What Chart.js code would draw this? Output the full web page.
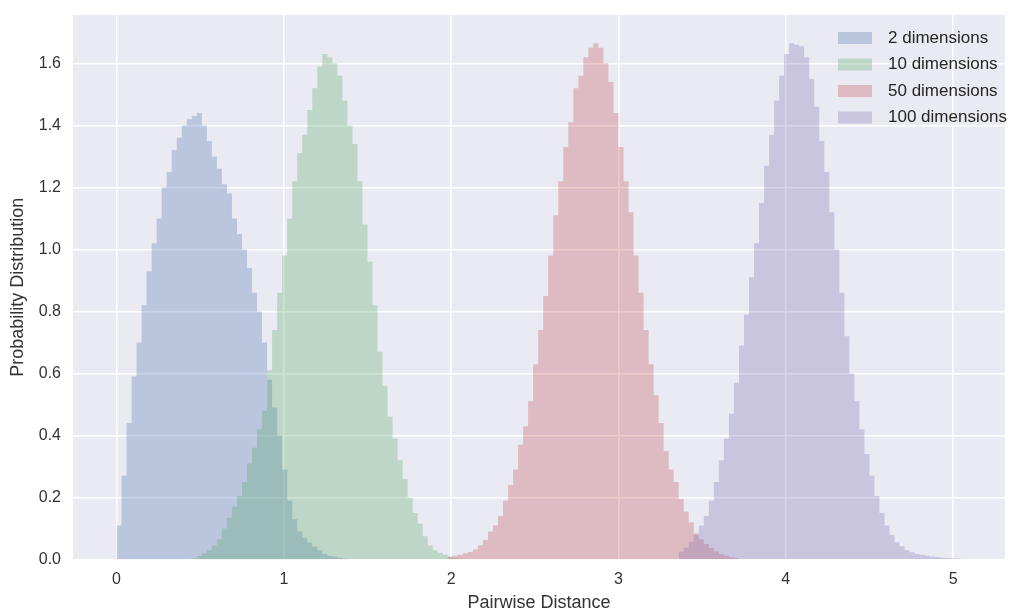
<!DOCTYPE html>
<html>
<head>
<meta charset="utf-8">
<script src="https://cdn.jsdelivr.net/npm/chart.js@4.4.1/dist/chart.umd.min.js"></script>
<style>
  html, body { margin: 0; padding: 0; background: #fff; }
  #wrap { width: 1014px; height: 611px; }
</style>
</head>
<body>
<div id="wrap"><canvas id="grafica" width="1014" height="611"></canvas></div>
<script>
// Histogram data (density per bin)
const binWidth = 0.03;
const seriesNames = ["2 dimensions", "10 dimensions", "50 dimensions", "100 dimensions"];

const dims2Start = 0.0;
const dims2 = [0.11, 0.27, 0.44, 0.59, 0.70, 0.82, 0.93, 1.02, 1.10, 1.20,
  1.25, 1.32, 1.36, 1.40, 1.42, 1.43, 1.44, 1.40, 1.35, 1.30,
  1.26, 1.21, 1.18, 1.10, 1.05, 1.00, 0.94, 0.86, 0.80, 0.70,
  0.58, 0.49, 0.40, 0.29, 0.19, 0.13, 0.09, 0.07, 0.055, 0.042,
  0.03, 0.018, 0.012, 0.009, 0.006, 0.003, 0.001];

const dims10Start = 0.45;
const dims10 = [0.004, 0.011, 0.02, 0.03, 0.045, 0.065, 0.10, 0.135, 0.17, 0.205,
  0.25, 0.31, 0.36, 0.42, 0.48, 0.61, 0.74, 0.86, 0.98, 1.10,
  1.22, 1.31, 1.37, 1.45, 1.52, 1.59, 1.63, 1.62, 1.60, 1.56,
  1.48, 1.40, 1.34, 1.22, 1.08, 0.96, 0.82, 0.67, 0.56, 0.46,
  0.39, 0.32, 0.26, 0.20, 0.15, 0.115, 0.075, 0.045, 0.03, 0.022,
  0.015, 0.01, 0.006, 0.003];

const dims50Start = 1.98;
const dims50 = [0.008, 0.012, 0.015, 0.02, 0.024, 0.032, 0.046, 0.063, 0.09, 0.11,
  0.14, 0.19, 0.24, 0.29, 0.37, 0.43, 0.51, 0.63, 0.74, 0.85,
  0.98, 1.11, 1.22, 1.33, 1.41, 1.52, 1.56, 1.62, 1.65, 1.665,
  1.65, 1.60, 1.54, 1.44, 1.33, 1.22, 1.12, 0.98, 0.86, 0.74,
  0.63, 0.53, 0.44, 0.35, 0.29, 0.25, 0.195, 0.155, 0.12, 0.085,
  0.065, 0.05, 0.037, 0.026, 0.018, 0.012, 0.007, 0.004];

const dims100Start = 3.36;
const dims100 = [0.025, 0.038, 0.057, 0.08, 0.11, 0.14, 0.19, 0.25, 0.32, 0.39,
  0.47, 0.57, 0.69, 0.79, 0.91, 1.02, 1.15, 1.27, 1.37, 1.48,
  1.56, 1.63, 1.665, 1.66, 1.655, 1.62, 1.55, 1.46, 1.35, 1.25,
  1.12, 1.00, 0.86, 0.72, 0.60, 0.51, 0.42, 0.34, 0.27, 0.205,
  0.15, 0.11, 0.08, 0.056, 0.043, 0.03, 0.023, 0.018, 0.015, 0.012,
  0.01, 0.008, 0.006, 0.005, 0.004, 0.003, 0.002];

const xTicks = [0, 1, 2, 3, 4, 5];
const yTicks = [0.0, 0.2, 0.4, 0.6, 0.8, 1.0, 1.2, 1.4, 1.6];

const colores = ["rgba(76,114,176,0.3)", "rgba(85,168,104,0.3)", "rgba(196,78,82,0.3)", "rgba(129,114,178,0.3)"];

// bins -> step points (left edge of each bin, closing point at the last right edge)
function toSteps(start, values) {
  const pts = values.map((v, i) => ({ x: +(start + i * binWidth).toFixed(4), y: v }));
  pts.push({ x: +(start + values.length * binWidth).toFixed(4), y: 0 });
  return pts;
}

const series = [[dims2Start, dims2], [dims10Start, dims10], [dims50Start, dims50], [dims100Start, dims100]];

const datasets = series.map(([start, vals], i) => ({
  label: seriesNames[i],
  data: toSteps(start, vals),
  stepped: "before",
  fill: "origin",
  backgroundColor: colores[i],
  borderWidth: 0,
  pointRadius: 0,
  order: series.length - i // first series drawn first, like matplotlib
}));

const fondoArea = {
  id: "fondoArea",
  beforeDraw(chart) {
    const { ctx, chartArea: a } = chart;
    ctx.save();
    ctx.fillStyle = "#EAEAF2";
    ctx.fillRect(a.left, a.top, a.right - a.left, a.bottom - a.top);
    ctx.restore();
  }
};

// legend drawn inside the plot, top right, no frame
const leyenda = {
  id: "leyenda",
  afterDraw(chart) {
    const { ctx, chartArea: a } = chart;
    ctx.save();
    ctx.font = "17px 'Liberation Sans', Arial, sans-serif";
    ctx.textBaseline = "middle";
    ctx.textAlign = "left";
    seriesNames.forEach((name, i) => {
      const y = a.top + 23 + i * 26.5;
      ctx.fillStyle = colores[i];
      ctx.fillRect(a.right - 167, y - 6, 34, 12);
      ctx.fillStyle = "#262626";
      ctx.fillText(name, a.right - 117, y);
    });
    ctx.restore();
  }
};

const fuenteTicks = { family: "'Liberation Sans', Arial, sans-serif", size: 16 };
const fuenteTitulo = { family: "'Liberation Sans', Arial, sans-serif", size: 18, lineHeight: 1 };

new Chart(document.querySelector("#grafica"), {
  type: "line",
  data: { datasets },
  plugins: [fondoArea, leyenda],
  options: {
    responsive: false,
    animation: false,
    events: [],
    layout: { padding: { top: 15, right: 9, left: 0, bottom: 0 } },
    plugins: { legend: { display: false }, tooltip: { enabled: false } },
    scales: {
      x: {
        type: "linear",
        min: -0.26,
        max: 5.31,
        afterBuildTicks: s => { s.ticks = xTicks.map(v => ({ value: v })); },
        afterFit: s => { s.height = 51.5; },
        grid: { color: "#ffffff", lineWidth: 1.5, drawTicks: false },
        border: { display: false },
        ticks: { padding: 10, color: "#333333", font: fuenteTicks, callback: v => String(v) },
        title: { display: true, text: "Pairwise Distance", color: "#333333", font: fuenteTitulo, padding: { top: 0, bottom: -1 } }
      },
      y: {
        min: 0,
        max: 1.756,
        afterBuildTicks: s => { s.ticks = yTicks.map(v => ({ value: v })); },
        afterFit: s => { s.width = 73; s.paddingTop = 0; s.paddingBottom = 0; },
        grid: { color: "#ffffff", lineWidth: 1.5, drawTicks: false },
        border: { display: false },
        ticks: { padding: 12, color: "#333333", font: fuenteTicks, callback: v => Number(v).toFixed(1) },
        title: { display: true, text: "Probability Distribution", color: "#333333", font: fuenteTitulo, padding: { top: 9, bottom: 0 } }
      }
    }
  }
});
</script>
</body>
</html>
